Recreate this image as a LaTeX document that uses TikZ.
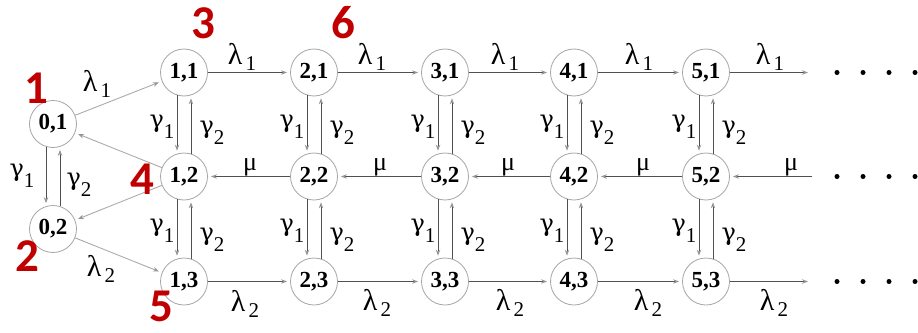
\documentclass[tikz,border=0pt]{standalone}
\usepackage{fontspec}
\setmainfont{Liberation Serif}
\newfontfamily\numfont{Carlito}
\newfontfamily\grk{Liberation Serif}
\newfontfamily\gam{DejaVu Serif}
\usetikzlibrary{arrows.meta}
\definecolor{darkred}{RGB}{192,0,0}
\definecolor{linec}{RGB}{80,80,80}
\definecolor{tipc}{RGB}{150,150,150}
\definecolor{circc}{RGB}{165,165,165}
\definecolor{diagc}{RGB}{170,170,170}
\newcommand\glab[1]{{\gam\fontsize{24pt}{24pt}\selectfont γ}\raisebox{-11pt}{\fontsize{21pt}{21pt}\selectfont #1}}
\newcommand\llab[2]{#1\hspace{3pt}\raisebox{-6pt}{\fontsize{21pt}{21pt}\selectfont #2}}
\begin{document}
\begin{tikzpicture}[x=1pt,y=-1pt,
 st/.style={circle,draw=circc,line width=0.8pt,minimum size=47pt,inner sep=0pt,font=\fontsize{23pt}{23pt}\selectfont\bfseries},
 arr/.style={draw=linec,line width=0.9pt,-{Stealth[length=6pt,width=4.5pt,color=tipc]},shorten >=3pt},
 darr/.style={arr,draw=diagc},
 lab/.style={inner sep=0pt,font=\grk\fontsize{30pt}{30pt}\selectfont},
 mulab/.style={inner sep=0pt,font=\grk\fontsize{26pt}{26pt}\selectfont},
 rednum/.style={text=darkred,font=\numfont\bfseries\fontsize{47pt}{47pt}\selectfont,inner sep=0pt},
 dotn/.style={circle,fill=black,minimum size=5pt,inner sep=0pt}]
\useasboundingbox (0,0) rectangle (918,332);
% states
\node[st] (n01) at (53,124) {0,1};
\node[st] (n02) at (53,229) {0,2};
\foreach \c/\x in {1/184,2/314,3/445,4/574,5/706}{
  \node[st] (n\c1) at (\x,72.5) {\c,1};
  \node[st] (n\c2) at (\x,176.5) {\c,2};
  \node[st] (n\c3) at (\x,281.5) {\c,3};
}
% horizontal arrows
\foreach \a/\b in {1/2,2/3,3/4,4/5}{
  \draw[arr] (n\a1) -- (n\b1);
  \draw[arr] (n\b2) -- (n\a2);
  \draw[arr] (n\a3) -- (n\b3);
}
\coordinate (e1) at (808,72.5);
\coordinate (e2) at (812,176.5);
\coordinate (e3) at (808,281.5);
\draw[arr,shorten >=0pt] (n51) -- (e1);
\draw[arr] (e2) -- (n52);
\draw[arr,shorten >=0pt] (n53) -- (e3);
% diagonals
\draw[darr] (n01) -- (n11);
\draw[darr] (n12) -- (n01);
\draw[darr] (n12) -- (n02);
\draw[darr] (n02) -- (n13);
% vertical arrows
\foreach \c in {0,...,5}{
  \draw[arr] (n\c1.253) -- (n\c2.107);
  \draw[arr] (n\c2.73) -- (n\c1.287);
}
\foreach \c in {1,...,5}{
  \draw[arr] (n\c2.253) -- (n\c3.107);
  \draw[arr] (n\c3.73) -- (n\c2.287);
}
% lambda labels
\node[lab] (l0) at (97,84) {\llab{λ}{1}};
\foreach \i/\x in {1/242,2/372,3/505,4/639,5/770}
  \node[lab] (lt\i) at (\x,57) {\llab{λ}{1}};
\node[lab] (m0) at (101,269) {\llab{λ}{2}};
\foreach \i/\x/\y in {1/245/304,2/377/303,3/510/303,4/648/303,5/774/303}
  \node[lab] (lb\i) at (\x,\y) {\llab{λ}{2}};
% mu labels
\foreach \i/\x in {1/250,2/380,3/508,4/643,5/791}
  \node[mulab] (mu\i) at (\x,167) {μ};
% gamma labels
\node[lab] (g10) at (22,176) {\glab{1}};
\node[lab] (g20) at (79,185) {\glab{2}};
\foreach \c/\x in {1/184,2/314,3/445,4/574,5/706}{
  \node[lab] (gt1\c) at (\x-22,127) {\glab{1}};
  \node[lab] (gt2\c) at (\x+28,133) {\glab{2}};
  \node[lab] (gb1\c) at (\x-22,231) {\glab{1}};
  \node[lab] (gb2\c) at (\x+28,240) {\glab{2}};
}
% dots
\foreach \r/\y in {1/72.5,2/176.5,3/281.5}
  \foreach \k/\x in {1/837,2/863,3/889,4/915}
    \node[dotn] (d\r\k) at (\x,\y) {};
% red numbers
\node[rednum] (r1) at (36,88) {1};
\node[rednum] (r2) at (27,256) {2};
\node[rednum] (r3) at (203,23) {3};
\node[rednum] (r4) at (142,179) {4};
\node[rednum] (r5) at (161,306) {5};
\node[rednum] (r6) at (343,23) {6};
\end{tikzpicture}
\end{document}
